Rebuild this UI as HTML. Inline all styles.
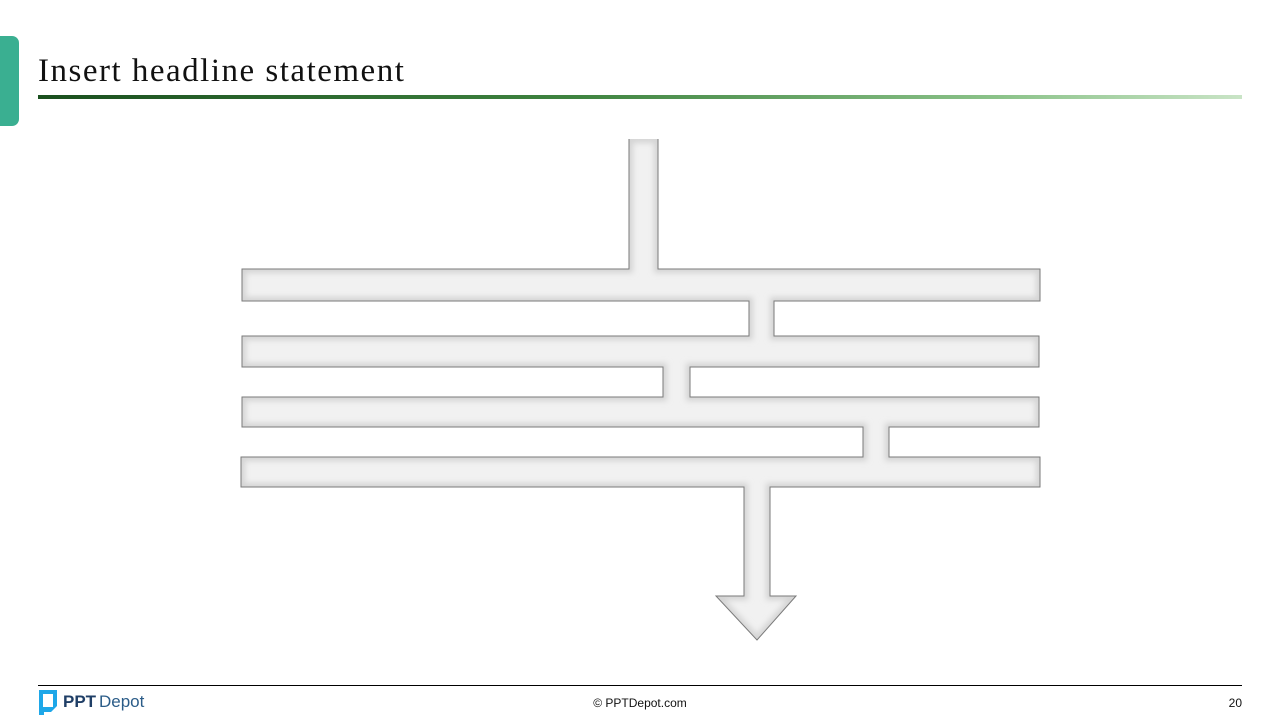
<!DOCTYPE html>
<html><head><meta charset="utf-8"><style>
html,body{margin:0;padding:0;width:1280px;height:720px;background:#fff;overflow:hidden;position:relative;font-family:"Liberation Sans",sans-serif}
.tab{position:absolute;left:0;top:36px;width:19px;height:90px;background:#3aaf91;border-radius:0 7px 7px 0}
.title{position:absolute;left:38px;top:53px;font-family:"Liberation Serif",serif;font-size:33px;letter-spacing:1.5px;color:#111;white-space:nowrap}
.rule{position:absolute;left:38px;top:95px;width:1204px;height:4px;background:linear-gradient(90deg,#1a4f1e,#3f8440 45%,#8cc38a 80%,#c9e4c6)}
.foot{position:absolute;left:38px;top:685px;width:1204px;height:1px;background:#000}
.copy{position:absolute;left:0;width:1280px;text-align:center;top:696px;font-size:12px;color:#111}
.num{position:absolute;right:38px;top:696px;font-size:12px;color:#111}
.logo{position:absolute;left:38px;top:689px}
</style></head><body>
<div class="tab"></div>
<div class="title">Insert headline statement</div>
<div class="rule"></div>
<svg width="1280" height="720" style="position:absolute;left:0;top:0">
<defs>
<path id="s" d="M629,139 L658,139 L658,269 L1040,269 L1040,301 L774,301 L774,336 L1039,336 L1039,367 L690,367 L690,397 L1039,397 L1039,427 L889,427 L889,457 L1040,457 L1040,487 L770,487 L770,596 L796,596 L757,640 L716,596 L744,596 L744,487 L241,487 L241,457 L863,457 L863,427 L242,427 L242,397 L663,397 L663,367 L242,367 L242,336 L749,336 L749,301 L242,301 L242,269 L629,269 Z"/>
<clipPath id="c"><use href="#s"/></clipPath>
<filter id="b"><feGaussianBlur stdDeviation="3"/></filter>
</defs>
<use href="#s" fill="#f1f1f1"/>
<g clip-path="url(#c)"><use href="#s" fill="none" stroke="#d4d4d4" stroke-width="8" filter="url(#b)"/></g>
<path d="M658,139 L658,269 L1040,269 L1040,301 L774,301 L774,336 L1039,336 L1039,367 L690,367 L690,397 L1039,397 L1039,427 L889,427 L889,457 L1040,457 L1040,487 L770,487 L770,596 L796,596 L757,640 L716,596 L744,596 L744,487 L241,487 L241,457 L863,457 L863,427 L242,427 L242,397 L663,397 L663,367 L242,367 L242,336 L749,336 L749,301 L242,301 L242,269 L629,269 L629,139" fill="none" stroke="#7a7a7a" stroke-width="1"/>
</svg>
<div class="foot"></div>
<div class="logo"><svg width="120" height="28"><path d="M1,1 h18 v16 l-6,6 h-7 v3 h-5 z" fill="#1ea7e8"/><rect x="5" y="5" width="10" height="13" fill="#fff"/><text x="25" y="18" font-family="Liberation Sans" font-weight="bold" font-size="17" fill="#1f3e66">PPT</text><text x="61" y="18" font-family="Liberation Sans" font-size="17" fill="#2b5c88">Depot</text></svg></div>
<div class="copy">© PPTDepot.com</div>
<div class="num">20</div>
</body></html>
